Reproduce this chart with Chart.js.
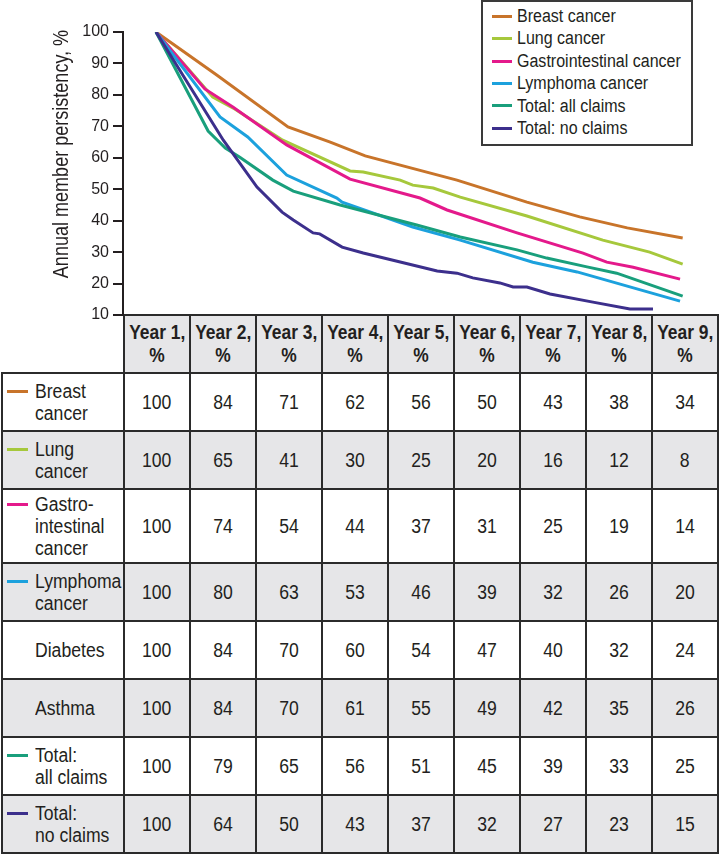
<!DOCTYPE html>
<html>
<head>
<meta charset="utf-8">
<script src="https://cdn.jsdelivr.net/npm/chart.js@4.4.0/dist/chart.umd.min.js"></script>
<style>
  html, body { margin: 0; padding: 0; background: #fff; }
  body {
    width: 719px; height: 855px; position: relative; overflow: hidden;
    font-family: "Liberation Sans", Arial, sans-serif;
    color: #231f20;
  }
  #chartBox { position: absolute; left: 0; top: 0; width: 719px; height: 330px; z-index: 2; }
  #legend {
    position: absolute; left: 481px; top: 0; width: 212px; height: 146px;
    box-sizing: border-box; border: 2px solid #3a3a3a; background: #fff;
    padding: 3px 0 0 9px; z-index: 3;
  }
  #legend .item { height: 22.4px; line-height: 22.4px; font-size: 18px; white-space: nowrap; }
  #legend .sw { display: inline-block; width: 20px; height: 3px; vertical-align: middle; margin-right: 5px; position: relative; top: -1px; }
  #legend .t { display: inline-block; transform: scaleX(0.89); transform-origin: left center; }
  #tbl {
    position: absolute; left: 1px; top: 314px; z-index: 1;
    border-collapse: collapse; table-layout: fixed; width: 717px;
  }
  #tbl td, #tbl th {
    border: 2px solid #2b2b2b; padding: 0; font-size: 20px; line-height: 23px;
    text-align: center; height: 56px; white-space: nowrap;
  }
  #tbl th { font-weight: bold; background: #e6e6e8; }
  #tbl th.blank { background: #fff; border-top-style: hidden; border-left-style: hidden; }
  #tbl tr.g td { background: #e6e6e8; }
  #tbl tr.tall td { height: 72px; }
  #tbl td.lab { text-align: left; padding-left: 32px; line-height: 22px; }
  #tbl td.lab .in { position: relative; }
  #tbl td.lab .sw { position: absolute; left: -28px; top: 10px; width: 21px; height: 3px; }
  .c { display: inline-block; transform: scaleX(0.88); }
  th .c { transform: scaleX(0.87); }
  td.lab .c { transform-origin: left center; }
</style>
</head>
<body>
<div id="chartBox"><canvas id="persistencyChart"></canvas></div>
<div id="legend"></div>
<table id="tbl"></table>

<script>
// y軸タイトル
const yTitle = 'Annual member persistency, %';
const yTicks = [10, 20, 30, 40, 50, 60, 70, 80, 90, 100];

// 凡例ラベルと色
const seriesLabels = ['Breast cancer', 'Lung cancer', 'Gastrointestinal cancer', 'Lymphoma cancer', 'Total: all claims', 'Total: no claims'];
const seriesColors = ['#c8742a', '#a6c83c', '#e4198b', '#1ca1dd', '#199f7c', '#3c2f8c'];

// 折れ線 (年, %)
const breastX = [1, 1.92, 3.0, 3.64, 4.17, 5.56, 6.62, 7.42, 8.14, 8.98];
const breastY = [100, 86.3, 69.8, 65.0, 60.6, 52.9, 45.9, 41.2, 37.7, 34.5];
const lungX = [1, 1.86, 2.17, 2.92, 3.94, 4.14, 4.70, 4.89, 5.20, 5.61, 6.62, 7.77, 8.48, 8.98];
const lungY = [100, 79.3, 75.8, 65.6, 55.8, 55.5, 52.9, 51.3, 50.4, 47.5, 41.5, 33.8, 30.0, 26.2];
const giX = [1, 1.74, 2.17, 2.98, 3.94, 5.0, 5.41, 6.47, 7.47, 7.83, 8.23, 8.94];
const giY = [100, 81.9, 76.1, 64.1, 53.2, 47.2, 43.4, 36.1, 29.7, 26.8, 25.2, 21.4];
const lymphX = [1, 1.97, 2.39, 2.98, 3.74, 3.82, 4.89, 5.61, 6.71, 7.38, 8.94];
const lymphY = [100, 73.0, 66.6, 54.5, 47.2, 45.9, 38.0, 33.8, 26.8, 23.7, 14.4];
const allClaimsX = [1, 1.79, 2.05, 2.27, 2.77, 3.08, 3.79, 4.95, 5.61, 6.47, 6.92, 7.53, 7.98, 8.98];
const allClaimsY = [100, 68.5, 63.1, 60.2, 52.9, 49.4, 45.0, 38.6, 34.8, 30.7, 28.1, 25.3, 23.3, 16.0];
const noClaimsX = [1, 2.02, 2.53, 2.91, 3.08, 3.38, 3.48, 3.82, 4.14, 5.26, 5.56, 5.80, 6.21, 6.41, 6.62, 6.97, 7.62, 8.18, 8.53];
const noClaimsY = [100, 65.6, 50.7, 42.7, 40.2, 36.1, 35.8, 31.6, 29.7, 24.0, 23.3, 21.8, 20.2, 18.9, 18.9, 16.7, 14.1, 11.9, 11.9];

// 表
const yearHeaders = ['Year 1,', 'Year 2,', 'Year 3,', 'Year 4,', 'Year 5,', 'Year 6,', 'Year 7,', 'Year 8,', 'Year 9,'];
const rowLabels = [
  ['Breast', 'cancer'],
  ['Lung', 'cancer'],
  ['Gastro-', 'intestinal', 'cancer'],
  ['Lymphoma', 'cancer'],
  ['Diabetes'],
  ['Asthma'],
  ['Total:', 'all claims'],
  ['Total:', 'no claims']
];
const rowColors = ['#c8742a', '#a6c83c', '#e4198b', '#1ca1dd', null, null, '#199f7c', '#3c2f8c'];
const breastRow = [100, 84, 71, 62, 56, 50, 43, 38, 34];
const lungRow = [100, 65, 41, 30, 25, 20, 16, 12, 8];
const giRow = [100, 74, 54, 44, 37, 31, 25, 19, 14];
const lymphRow = [100, 80, 63, 53, 46, 39, 32, 26, 20];
const diabetesRow = [100, 84, 70, 60, 54, 47, 40, 32, 24];
const asthmaRow = [100, 84, 70, 61, 55, 49, 42, 35, 26];
const allClaimsRow = [100, 79, 65, 56, 51, 45, 39, 33, 25];
const noClaimsRow = [100, 64, 50, 43, 37, 32, 27, 23, 15];
const rowValues = [breastRow, lungRow, giRow, lymphRow, diabetesRow, asthmaRow, allClaimsRow, noClaimsRow];

const FONT = '"Liberation Sans", Arial, sans-serif';
const INK = '#231f20';

function toPoints(xs, ys) {
  return xs.map((x, i) => ({ x: x, y: ys[i] }));
}

const seriesPoints = [
  toPoints(breastX, breastY),
  toPoints(lungX, lungY),
  toPoints(giX, giY),
  toPoints(lymphX, lymphY),
  toPoints(allClaimsX, allClaimsY),
  toPoints(noClaimsX, noClaimsY)
];

// y軸タイトル (細めの書体に見せるため横方向を縮める)
const yTitlePlugin = {
  id: 'yTitle',
  afterDraw(chart) {
    const ctx = chart.ctx;
    ctx.save();
    ctx.translate(62, 154);
    ctx.rotate(-Math.PI / 2);
    ctx.scale(0.82, 1);
    ctx.font = '22px ' + FONT;
    ctx.fillStyle = INK;
    ctx.textAlign = 'center';
    ctx.textBaseline = 'middle';
    ctx.fillText(yTitle, 0, 0);
    ctx.restore();
  }
};

const chart = new Chart(document.getElementById('persistencyChart'), {
  type: 'line',
  data: {
    datasets: seriesLabels.map((label, i) => ({
      label: label,
      data: seriesPoints[i],
      borderColor: seriesColors[i],
      backgroundColor: seriesColors[i],
      borderWidth: 3,
      pointRadius: 0,
      tension: 0,
      fill: false
    })).reverse()
  },
  options: {
    responsive: true,
    maintainAspectRatio: false,
    animation: false,
    layout: { padding: { left: 0, right: 2, top: 32, bottom: 15 } },
    plugins: {
      legend: { display: false },
      tooltip: { enabled: false }
    },
    scales: {
      x: { type: 'linear', display: false, min: 0.5, max: 9.5 },
      y: {
        min: 10,
        max: 100,
        afterFit: s => { s.width = 123; },
        afterBuildTicks: s => { s.ticks = yTicks.map(v => ({ value: v })); },
        ticks: { color: INK, font: { family: FONT, size: 16 }, padding: 4 },
        grid: { drawOnChartArea: false, drawTicks: true, tickLength: 10, color: INK, lineWidth: 2 },
        border: { display: true, color: INK, width: 2 }
      }
    }
  },
  plugins: [yTitlePlugin]
});

// HTML凡例
const legendEl = document.getElementById('legend');
seriesLabels.forEach((label, i) => {
  const item = document.createElement('div');
  item.className = 'item';
  item.innerHTML = '<span class="sw" style="background:' + seriesColors[i] + '"></span><span class="t">' + label + '</span>';
  legendEl.appendChild(item);
});

// 表
const tbl = document.getElementById('tbl');
let html = '<colgroup><col style="width:122px">' + yearHeaders.map(() => '<col style="width:66px">').join('') + '</colgroup>';
html += '<tr><th class="blank"></th>' + yearHeaders.map(h => '<th><span class="c">' + h + '</span><br><span class="c">%</span></th>').join('') + '</tr>';
rowLabels.forEach((lines, r) => {
  const cls = [];
  if (r % 2 === 1) cls.push('g');
  if (lines.length > 2) cls.push('tall');
  const sw = rowColors[r] ? '<span class="sw" style="background:' + rowColors[r] + '"></span>' : '';
  html += '<tr class="' + cls.join(' ') + '"><td class="lab"><div class="in">' + sw +
    lines.map(t => '<span class="c">' + t + '</span>').join('<br>') + '</div></td>';
  html += rowValues[r].map(v => '<td><span class="c">' + v + '</span></td>').join('') + '</tr>';
});
tbl.innerHTML = html;
</script>
</body>
</html>
